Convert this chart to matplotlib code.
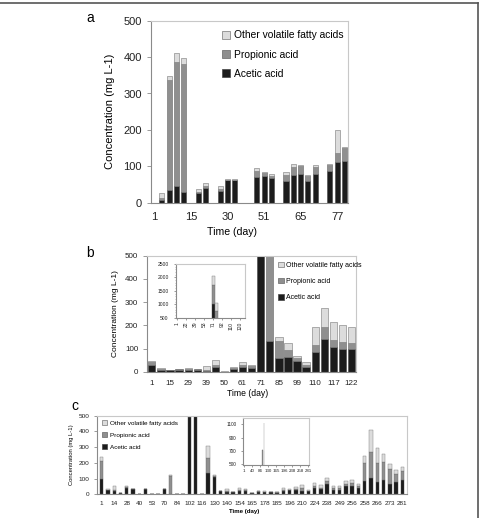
import numpy as np
import matplotlib
matplotlib.use('Agg')
import matplotlib.pyplot as plt
from matplotlib.patches import Patch
from matplotlib.lines import Line2D

plt.rcParams['font.family'] = ['Liberation Sans', 'DejaVu Sans']

# colours
c_acetic = '#1c1c1c'
c_prop = '#8f8f8f'
c_other = '#dcdcdc'
series_names = ['Other volatile fatty acids', 'Propionic acid', 'Acetic acid']

# ---- panel a (27 category slots, empty slots are 0)
acetic_a = [0, 7, 34, 47, 30, 0, 26, 41, 0, 33, 62, 62, 0, 0, 70, 74, 69, 0, 60, 77, 80, 60, 80, 0, 87, 111, 114]
propionic_a = [0, 5, 303, 339, 350, 0, 4, 5, 0, 6, 1, 1, 0, 0, 16, 7, 5, 0, 16, 22, 22, 13, 19, 0, 17, 25, 36]
other_a = [0, 14, 11, 26, 17, 0, 8, 8, 0, 7, 2, 2, 0, 0, 8, 2, 5, 0, 7, 7, 1, 3, 5, 0, 2, 64, 4]
ticks_a = ['1', '15', '30', '51', '65', '77']          # every 5th slot

# ---- panel b (23 slots)
acetic_b = [31, 8, 7, 10, 9, 10, 4, 21, 0, 13, 21, 17, 1000, 132, 62, 64, 48, 21, 87, 143, 107, 101, 99]
propionic_b = [12, 4, 1, 1, 4, 1, 5, 7, 0, 4, 10, 7, 700, 600, 73, 31, 12, 10, 27, 52, 31, 28, 27]
other_b = [4, 5, 1, 0, 4, 0, 17, 25, 3, 4, 12, 6, 370, 318, 14, 29, 10, 13, 78, 82, 76, 73, 69]
ticks_b = ['1', '15', '29', '39', '50', '61', '71', '85', '99', '110', '117', '122']   # every 2nd slot
ticks_b_inset = ['1', '22', '39', '53', '71', '92', '110', '120']                     # every 3rd slot

# ---- panel c (49 slots)
acetic_c = [100, 28, 22, 8, 38, 35, 0, 35, 0, 0, 35, 0, 0, 0, 490, 700, 0, 138, 108, 21,
            17, 13, 21, 21, 8, 17, 15, 13, 11, 19, 25, 28, 21, 21, 38, 34, 68, 28, 30, 55,
            51, 42, 85, 106, 80, 89, 68, 76, 91]
propionic_c = [115, 2, 8, 0, 10, 0, 0, 0, 0, 0, 0, 115, 0, 0, 230, 420, 0, 95, 10, 0,
               5, 0, 5, 4, 0, 2, 2, 2, 2, 7, 2, 5, 17, 2, 15, 8, 17, 12, 10, 12,
               20, 10, 112, 165, 117, 114, 93, 51, 57]
other_c = [20, 2, 20, 0, 5, 0, 0, 0, 0, 0, 0, 5, 0, 0, 0, 0, 0, 77, 7, 0,
           10, 0, 12, 9, 0, 4, 2, 2, 2, 12, 7, 12, 24, 2, 21, 17, 19, 13, 13, 18,
           18, 14, 47, 138, 96, 51, 30, 26, 28]
ticks_c = ['1', '14', '28', '40', '53', '70', '84', '102', '116', '130', '140', '154', '165',
           '178', '185', '196', '210', '224', '238', '249', '256', '258', '266', '273', '281']  # every 2nd slot
ticks_c_inset = ['1', '40', '84', '130', '165', '196', '238', '258', '281']                       # every 6th slot

W, H = 479, 518
fig = plt.figure(figsize=(W / 100, H / 100), dpi=100)


def box(l, r, t, b):
    return [l / W, 1 - b / H, (r - l) / W, (b - t) / H]


def stack(ax, ac, pr, ot, width, lw=0.4):
    x = np.arange(len(ac))
    ac = np.array(ac, float)
    pr = np.array(pr, float)
    ot = np.array(ot, float)
    ax.bar(x, ac, width, color=c_acetic, edgecolor='#444444', linewidth=lw)
    ax.bar(x, pr, width, bottom=ac, color=c_prop, edgecolor='#666666', linewidth=lw)
    ax.bar(x, ot, width, bottom=ac + pr, color=c_other, edgecolor='#777777', linewidth=lw)
    ax.set_xlim(-0.5, len(ac) - 0.5)


def style(ax, fs, ticklen=3):
    for s in ['left', 'bottom']:
        ax.spines[s].set_color('#8a8a8a')
        ax.spines[s].set_linewidth(0.8)
    for s in ['top', 'right']:
        ax.spines[s].set_color('#c8c8c8')
        ax.spines[s].set_linewidth(0.8)
    ax.tick_params(axis='both', labelsize=fs, colors='#8a8a8a', labelcolor='#222222',
                   length=ticklen, width=0.6)


def legend(ax, fs, x, y, spacing, handle=0.8):
    hs = [Patch(facecolor=c_other, edgecolor='#777777', linewidth=0.5),
          Patch(facecolor=c_prop, edgecolor='#666666', linewidth=0.5),
          Patch(facecolor=c_acetic, edgecolor='#444444', linewidth=0.5)]
    ax.legend(hs, series_names, loc='upper left', bbox_to_anchor=(x / W, 1 - y / H),
              bbox_transform=fig.transFigure, frameon=False, fontsize=fs,
              handlelength=handle, handleheight=handle, handletextpad=0.4,
              labelspacing=spacing, borderpad=0, borderaxespad=0)


# ----- panel a
ax = fig.add_axes(box(151, 348, 20.7, 202.7))
stack(ax, acetic_a, propionic_a, other_a, 0.7)
ax.set_ylim(0, 500)
ax.set_yticks(range(0, 501, 100))
ax.set_xticks(np.arange(0, len(acetic_a), 5))
ax.set_xticklabels(ticks_a)
style(ax, 8)
ax.tick_params(axis='x', length=0, pad=7)
ax.set_ylabel('Concentration (mg L-1)', fontsize=8, labelpad=6)
legend(ax, 7.4, 222, 30.5, 0.9)
fig.text(232 / W, 1 - 232 / H, 'Time (day)', fontsize=7.6, ha='center', va='center')
fig.text(90 / W, 1 - 17.5 / H, 'a', fontsize=10, ha='center', va='center')

# ----- panel b
ax = fig.add_axes(box(147.3, 356, 255.7, 372))
stack(ax, acetic_b, propionic_b, other_b, 0.8)
ax.set_ylim(0, 500)
ax.set_yticks(range(0, 501, 100))
ax.set_xticks(np.arange(0, len(acetic_b), 2))
ax.set_xticklabels(ticks_b)
style(ax, 5.8)
ax.tick_params(axis='x', length=0, pad=6)
ax.set_ylabel('Concentration (mg L-1)', fontsize=6, labelpad=4)
legend(ax, 5, 278, 261.5, 1.35)
fig.text(248 / W, 1 - 393 / H, 'Time (day)', fontsize=6.2, ha='center', va='center')
fig.text(90 / W, 1 - 253 / H, 'b', fontsize=10, ha='center', va='center')

ins = fig.add_axes(box(175.7, 245, 264, 317.7))
stack(ins, acetic_b, propionic_b, other_b, 0.8, lw=0.3)
ins.set_ylim(500, 2500)
ins.set_yticks(range(500, 2501, 500))
ins.set_yticks(range(500, 2501, 100), minor=True)
ins.set_xticks(np.arange(0, len(acetic_b), 3))
ins.set_xticklabels(ticks_b_inset, rotation=90)
style(ins, 3.6, ticklen=1.5)
ins.tick_params(axis='y', which='minor', length=1, width=0.4, colors='#8a8a8a')
ins.tick_params(axis='x', pad=1.5)

# ----- panel c
ax = fig.add_axes(box(97, 407, 415.7, 494.3))
stack(ax, acetic_c, propionic_c, other_c, 0.55, lw=0.3)
ax.set_xlim(-0.75, len(acetic_c) - 0.25)
ax.set_ylim(0, 500)
ax.set_yticks(range(0, 501, 100))
ax.set_xticks(np.arange(0, len(acetic_c), 2))
ax.set_xticklabels(ticks_c)
style(ax, 4.6, ticklen=2)
ax.tick_params(axis='x', length=0, pad=4.5)
ax.set_ylabel('Concentration (mg L-1)', fontsize=4.2, labelpad=3)
legend(ax, 4.6, 102, 420, 1.0)
fig.text(244 / W, 1 - 511.3 / H, 'Time (day)', fontsize=4.4, fontweight='bold', ha='center', va='center')
fig.text(75 / W, 1 - 405.5 / H, 'c', fontsize=10, ha='center', va='center')

ins = fig.add_axes(box(243.3, 308.7, 417.7, 465))
stack(ins, acetic_c, propionic_c, other_c, 0.7, lw=0.2)
ins.set_xlim(-0.5, len(acetic_c) - 0.5)
ins.set_ylim(490, 1200)
ins.set_yticks(range(500, 1101, 200))
ins.set_xticks(np.arange(0, len(acetic_c), 6))
ins.set_xticklabels(ticks_c_inset)
style(ins, 3.4, ticklen=1.2)
ins.tick_params(axis='x', pad=1.5, labelsize=3.2)

# outer frame lines (top and right)
fig.add_artist(Line2D([0, 478 / W], [1 - 3 / H, 1 - 3 / H], color='#555555', lw=1.2))
fig.add_artist(Line2D([478 / W, 478 / W], [1 - 3 / H, 0], color='#555555', lw=1.2))

fig.savefig('out.png', dpi=100)
